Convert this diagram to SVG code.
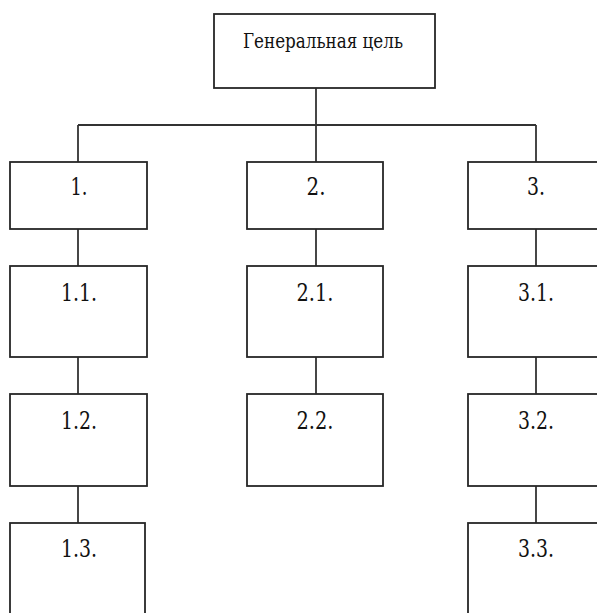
<svg xmlns="http://www.w3.org/2000/svg" width="597" height="613" viewBox="0 0 597 613">
<style>
.box{fill:#fff;stroke:#262626;stroke-width:1.8}
.ln{stroke:#333;stroke-width:1.8;fill:none}
.t{font-family:"DejaVu Serif","Liberation Serif",serif;font-size:25px;fill:#111;text-anchor:middle}
.tt{font-family:"DejaVu Serif","Liberation Serif",serif;font-size:21px;fill:#111;text-anchor:middle}
</style>
<rect width="597" height="613" fill="#fff"/>
<g id="connectors">
<path class="ln" d="M316 88V162M78 125H536M78 125V162M536 125V162"/>
<path class="ln" d="M78 229V266M78 357V394M78 486V523"/>
<path class="ln" d="M316 229V266M316 357V394"/>
<path class="ln" d="M536 229V266M536 357V394M536 486V523"/>
</g>
<g id="goal"><rect class="box" x="214" y="14" width="221" height="74"/><text class="tt" x="323" y="48" textLength="160" lengthAdjust="spacingAndGlyphs">Генеральная цель</text></g>
<g id="n1"><rect class="box" x="10" y="162" width="137" height="67"/><text class="t" x="79" y="195" textLength="17" lengthAdjust="spacingAndGlyphs">1.</text></g>
<g id="n2"><rect class="box" x="247" y="162" width="136" height="67"/><text class="t" x="316" y="195" textLength="19" lengthAdjust="spacingAndGlyphs">2.</text></g>
<g id="n3"><rect class="box" x="468" y="162" width="140" height="67"/><text class="t" x="536" y="195" textLength="18" lengthAdjust="spacingAndGlyphs">3.</text></g>
<g id="n11"><rect class="box" x="10" y="266" width="137" height="91"/><text class="t" x="79" y="301" textLength="36" lengthAdjust="spacingAndGlyphs">1.1.</text></g>
<g id="n21"><rect class="box" x="247" y="266" width="136" height="91"/><text class="t" x="315" y="301" textLength="37" lengthAdjust="spacingAndGlyphs">2.1.</text></g>
<g id="n31"><rect class="box" x="468" y="266" width="140" height="91"/><text class="t" x="536" y="301" textLength="36" lengthAdjust="spacingAndGlyphs">3.1.</text></g>
<g id="n12"><rect class="box" x="10" y="394" width="137" height="92"/><text class="t" x="79" y="429" textLength="36" lengthAdjust="spacingAndGlyphs">1.2.</text></g>
<g id="n22"><rect class="box" x="247" y="394" width="136" height="92"/><text class="t" x="315" y="429" textLength="37" lengthAdjust="spacingAndGlyphs">2.2.</text></g>
<g id="n32"><rect class="box" x="468" y="394" width="140" height="92"/><text class="t" x="536" y="429" textLength="36" lengthAdjust="spacingAndGlyphs">3.2.</text></g>
<g id="n13"><rect class="box" x="10" y="523" width="135" height="100"/><text class="t" x="79" y="557" textLength="36" lengthAdjust="spacingAndGlyphs">1.3.</text></g>
<g id="n33"><rect class="box" x="468" y="523" width="140" height="100"/><text class="t" x="536" y="557" textLength="36" lengthAdjust="spacingAndGlyphs">3.3.</text></g>
</svg>
